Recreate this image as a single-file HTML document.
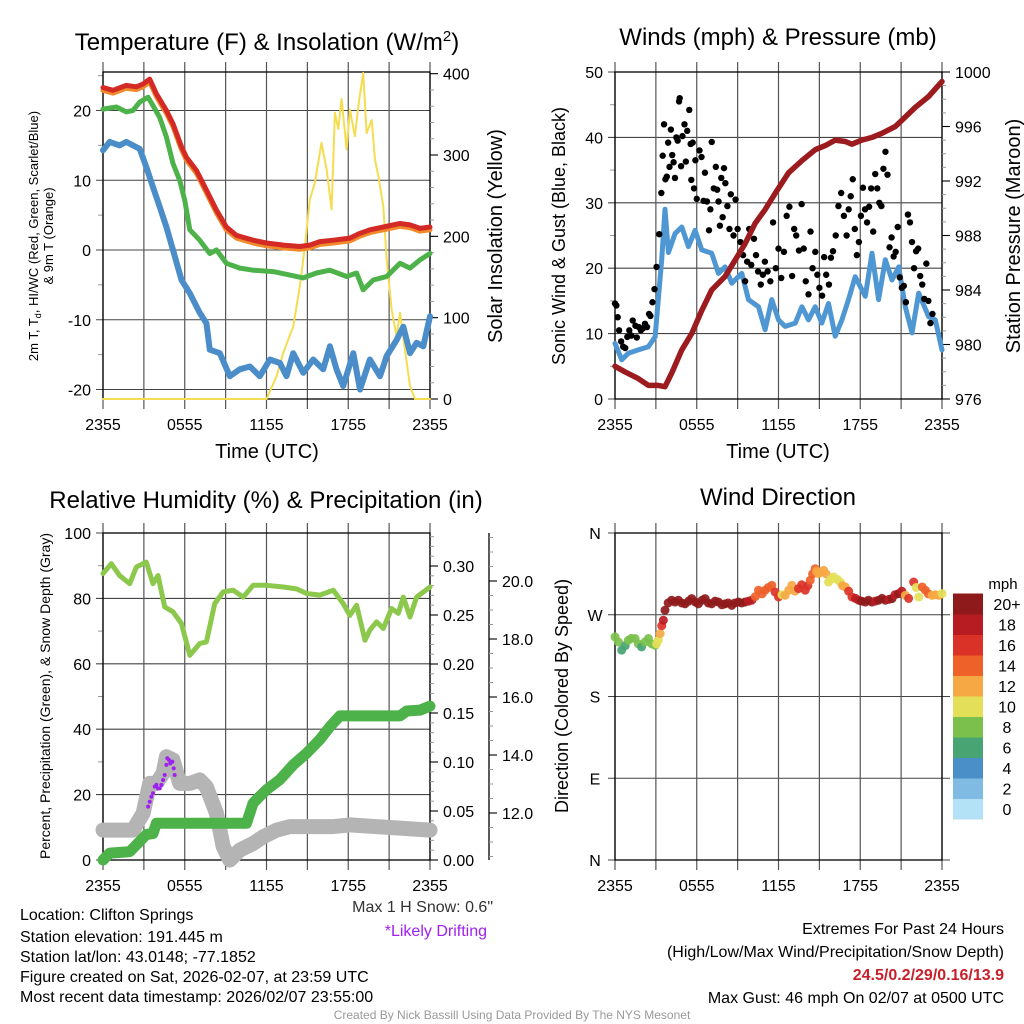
<!DOCTYPE html>
<html><head><meta charset="utf-8">
<style>
html,body{margin:0;padding:0;background:#fff;}
svg{display:block;font-family:"Liberation Sans",sans-serif;}
</style></head>
<body>
<svg id="c" width="1024" height="1024" viewBox="0 0 1024 1024" xmlns="http://www.w3.org/2000/svg">
<g font-size="24" text-anchor="middle" fill="#000">
<text x="267" y="50">Temperature (F) &amp; Insolation (W/m<tspan dy="-9" font-size="15">2</tspan><tspan dy="9">)</tspan></text>
<text x="778" y="45">Winds (mph) &amp; Pressure (mb)</text>
<text x="266" y="508">Relative Humidity (%) &amp; Precipitation (in)</text>
<text x="778" y="505">Wind Direction</text>
</g>
<g fill="#000" text-anchor="middle">
<text x="267" y="458" font-size="20">Time (UTC)</text>
<text x="778" y="458" font-size="20">Time (UTC)</text>
<text transform="translate(38,236) rotate(-90)" font-size="13">2m T, T<tspan font-size="9" dy="3">d</tspan><tspan dy="-3">, HI/WC (Red, Green, Scarlet/Blue)</tspan></text>
<text transform="translate(53,236) rotate(-90)" font-size="13">&amp; 9m T (Orange)</text>
<text transform="translate(502,236) rotate(-90)" font-size="20">Solar Insolation (Yellow)</text>
<text transform="translate(565,236) rotate(-90)" font-size="18">Sonic Wind &amp; Gust (Blue, Black)</text>
<text transform="translate(1020,236) rotate(-90)" font-size="20">Station Pressure (Maroon)</text>
<text transform="translate(50,696) rotate(-90)" font-size="14">Percent, Precipitation (Green), &amp; Snow Depth (Gray)</text>
<text transform="translate(568,696) rotate(-90)" font-size="18">Direction (Colored By Speed)</text>
</g>
<g id="plots"></g>
<g font-size="16" fill="#000">
<text x="20" y="920">Location: Clifton Springs</text>
<text x="20" y="942">Station elevation: 191.445 m</text>
<text x="20" y="962">Station lat/lon: 43.0148; -77.1852</text>
<text x="20" y="982">Figure created on Sat, 2026-02-07, at 23:59 UTC</text>
<text x="20" y="1002">Most recent data timestamp: 2026/02/07 23:55:00</text>
<text x="493" y="912" text-anchor="end" fill="#333">Max 1 H Snow: 0.6"</text>
<text x="487" y="936" text-anchor="end" fill="#a020f0">*Likely Drifting</text>
<text x="1004" y="934" text-anchor="end">Extremes For Past 24 Hours</text>
<text x="1004" y="957" text-anchor="end">(High/Low/Max Wind/Precipitation/Snow Depth)</text>
<text x="1004" y="980" text-anchor="end" fill="#c8202a" font-weight="bold">24.5/0.2/29/0.16/13.9</text>
<text x="1004" y="1003" text-anchor="end">Max Gust: 46 mph On 02/07 at 0500 UTC</text>
<text x="512" y="1019" text-anchor="middle" font-size="12" fill="#999">Created By Nick Bassill Using Data Provided By The NYS Mesonet</text>
</g>
</svg>
<script>
const timeTicks=["2355","0555","1155","1755","2355"];
// Panel 1
const redH=[0,0.73,1.71,2.45,2.94,3.43,3.92,4.65,5.14,5.76,6.12,6.86,7.59,8.33,9.06,9.8,11.02,12,13.23,14.45,15.18,15.92,16.9,18.12,18.86,19.59,20.57,21.8,22.53,23.27,24];
const redV=[23.3,22.9,23.6,23.4,23.8,24.5,22.4,20,18.1,14.8,13.3,11.4,8.6,5.7,3.3,2.1,1.4,1,0.7,0.5,0.7,1.2,1.4,1.7,2.4,2.9,3.3,3.8,3.6,3.1,3.3];
const orangeV=[22.9,22.5,23.2,23,23.4,24.1,22,19.6,17.7,14.4,12.9,11,8.2,5.3,2.9,1.7,1,0.6,0.3,0.1,0.3,0.8,1,1.3,2,2.5,2.9,3.4,3.2,2.7,2.9];
const greenH=[0,0.98,1.71,2.2,2.69,3.31,3.67,4.16,4.65,5.14,5.63,6,6.37,7.1,7.84,8.33,9.06,10.04,11.02,12.49,13.72,14.69,15.67,16.65,17.88,18.61,19.1,19.84,20.82,21.8,22.53,23.27,24];
const greenV=[20.2,20.5,19.8,20,21.2,21.9,20.7,19,16.2,12.4,10,7.1,2.9,1.4,-0.5,0,-1.9,-2.6,-2.9,-3.1,-3.6,-4,-3.3,-2.9,-3.8,-3.3,-5.7,-4.3,-3.8,-1.9,-2.6,-1.4,-0.5];
const blueH=[0,0.49,1.22,1.71,2.2,2.69,3.18,3.67,4.16,4.65,5.14,5.76,6.37,7.1,7.59,7.84,8.57,9.31,10.04,10.78,11.51,12.25,12.98,13.47,13.96,14.69,15.43,16.16,16.65,17.14,17.63,18.37,18.86,19.59,20.33,20.82,21.55,22.04,22.53,23.02,23.51,24];
const blueV=[14.3,15.5,15,15.5,15,14.5,11.9,9,6.2,3.3,0,-4.3,-6.2,-9,-10.5,-14.3,-14.8,-18.1,-17.1,-16.7,-18.1,-15.7,-16.2,-18.1,-14.8,-17.6,-15.7,-17.1,-13.8,-17.1,-19.5,-14.8,-20,-15.7,-18.1,-15.2,-12.9,-11,-14.8,-13.3,-13.8,-9.5];
const solarH=[0,12,12.74,13.23,13.96,14.45,14.82,15.18,15.55,16.04,16.41,16.78,17.02,17.27,17.51,17.88,18.12,18.49,18.74,19.1,19.35,19.72,19.96,20.21,20.57,20.82,21.18,21.55,21.8,22.16,22.53,22.9,24];
const solarV=[0,0,28,57,89,139,188,245,266,315,282,233,352,332,369,307,356,323,360,401,327,343,294,274,237,171,110,77,106,61,16,0,0];
// Panel 2
const presH=[0,0.73,1.71,2.45,3.18,3.67,4.16,4.9,5.63,6.37,7.1,8.08,8.82,9.55,10.29,11.02,11.76,12.74,13.72,14.69,15.43,16.16,16.9,17.39,18.12,18.86,19.59,20.57,21.31,22.04,23.02,24];
const presV=[978.4,978,977.5,977,977,976.9,977.9,979.6,980.8,982.5,984,985,986.2,987.4,988.9,989.9,991.1,992.6,993.5,994.3,994.6,995,994.9,994.7,995,995.2,995.5,996,996.7,997.4,998.2,999.3];
const windH=[0,0.49,0.98,1.71,2.45,2.94,3.43,3.67,3.92,4.41,4.9,5.39,5.88,6.37,7.1,7.59,8.08,8.57,9.31,9.8,10.53,11.02,11.51,12,12.49,13.23,13.72,14.2,14.69,15.18,15.67,16.16,16.65,17.14,17.63,18.37,18.86,19.35,19.84,20.33,20.82,21.31,21.8,22.29,23.02,23.51,24];
const windV=[8.5,6,7,7.5,8,9.5,21.3,29,22.4,25.3,26.3,23.3,25.8,22.8,22.3,19.2,20.2,17.7,19.2,15.2,14.1,10.6,15.2,12.1,11.1,11.6,14.1,12.1,14.1,11.6,14.6,9.6,12.1,15.2,18.7,15.7,22.3,15.2,21.3,18.2,20.2,14.1,10.1,16.2,12.6,12.1,7.5];
const gustH=[0,0.1,0.2,0.3,0.45,0.6,0.75,0.9,1.05,1.2,1.3,1.5,1.6,1.75,1.9,2.05,2.2,2.35,2.5,2.6,2.75,2.9,3.05,3.25,3.4,3.5,3.6,3.7,3.8,3.9,4.0,4.1,4.2,4.3,4.4,4.5,4.6,4.7,4.75,4.85,4.95,5.1,5.2,5.3,5.45,5.55,5.6,5.7,5.8,5.9,6.0,6.2,6.35,6.5,6.6,6.75,6.9,7.0,7.1,7.25,7.4,7.5,7.6,7.7,7.8,7.9,8.0,8.1,8.25,8.4,8.5,8.7,8.85,9.0,9.2,9.4,9.55,9.7,9.85,10.0,10.2,10.35,10.5,10.7,10.85,11.0,11.2,11.4,11.6,11.8,12.0,12.2,12.4,12.6,12.8,13.0,13.15,13.3,13.5,13.7,13.85,14.0,14.2,14.35,14.5,14.7,14.85,15.0,15.2,15.35,15.5,15.7,15.85,16.0,16.2,16.4,16.6,16.8,17.0,17.15,17.3,17.45,17.6,17.75,17.9,18.05,18.2,18.35,18.5,18.65,18.8,18.95,19.1,19.25,19.4,19.55,19.7,19.85,20.0,20.15,20.3,20.45,20.6,20.75,20.9,21.05,21.2,21.35,21.5,21.65,21.8,21.95,22.1,22.25,22.4,22.55,22.7,22.85,23.0,23.15,23.3,23.45,23.6,23.75,23.9,24];
const gustV=[14.6,14.3,12.5,10.5,8.8,8,7.8,9.5,10.5,9.7,12,11.2,9.4,11,10.5,10.8,11.5,11,13,12.7,14.8,16.8,20.2,25.2,31.5,37.2,42,33.6,34,39.2,35.5,41.2,37.3,36.2,33.8,40,39.5,45.5,46,35.6,40.2,42,36.3,41,44.2,39,33.5,39.2,32.2,36.5,30.6,38,37,30.3,34.6,30.2,25.8,29,39.3,32.2,35.5,32,30.2,26.5,33.8,27.8,35.3,33,29.5,26,31.3,25,30.5,26,24,22,18,21,26,20.5,24.5,22,19.5,17.5,19,21,19.5,18,27,20,23,18.5,22.5,28,29.4,18.8,26,25,22.7,29.8,23,18,16,25.6,20,22.5,19,17,15.8,21.7,19,17.5,21.6,22.6,25,29.5,31.5,28,25,29,31,33.6,26,22,24,28,32.3,29,27,29.4,32.2,25.6,34.4,32.2,30,29.5,35.2,37.8,34.3,23.2,24.7,21.8,22.5,26.3,18.6,17,17.3,14.8,28.2,27,24,20,22.6,23,18.8,17.5,15.3,20.7,15,11.6,13];
// Panel 3
const rhH=[0,0.61,1.22,1.96,2.45,3.18,3.67,4.04,4.53,5.14,5.76,6.37,7.1,7.59,8.2,8.82,9.55,10.29,11.02,12,13.23,14.2,14.94,15.92,16.9,17.63,18.12,18.61,19.23,19.59,20.08,20.57,21.18,21.67,22.04,22.53,23.02,24];
const rhV=[87.6,90.6,87,84.5,89.6,91.1,84.5,87,77.4,75.9,72.3,62.6,66.2,66.7,78.4,82,82.5,80.4,84,84,83.5,82.9,81.5,81,82.5,78.4,74.8,77.9,67.2,70.3,72.8,70.8,76.9,75.4,80.4,74.3,80.4,83.5];
const precipH=[0,0.49,1.96,2.69,3.18,3.67,3.92,10.53,11.02,11.51,12,12.98,13.96,14.94,15.92,16.65,17.39,21.8,22.29,23.27,24];
const precipV=[0,0.007,0.0085,0.019,0.026,0.027,0.0375,0.0375,0.058,0.065,0.0716,0.082,0.097,0.109,0.123,0.136,0.147,0.147,0.152,0.153,0.157];
const snowH=[0,2.2,2.94,3.43,3.92,4.41,4.65,5.14,5.63,6.37,7.1,7.59,8.33,8.82,9.31,10.04,11.02,11.76,12.74,13.72,16.9,18.12,24];
const snowV=[11.41,11.41,11.99,13.02,13.02,13.37,13.94,13.83,13.02,13.02,13.14,12.9,11.99,10.84,10.38,10.72,10.95,11.18,11.41,11.53,11.53,11.59,11.41];
const driftH=[3.31,3.43,3.55,3.67,3.8,3.92,4.04,4.16,4.29,4.41,4.53,4.65,4.72,4.84,4.94,5.09,5.19,5.26];
const driftV=[12.22,12.39,12.56,12.68,12.91,12.97,12.85,12.85,12.97,13.14,13.31,13.66,13.89,13.83,13.71,13.77,13.54,13.31];
// Panel 4
const dirH=[0,0.25,0.49,0.75,0.98,1.2,1.47,1.71,1.95,2.2,2.45,2.69,2.94,3.05,3.18,3.31,3.43,3.55,3.67,3.9,4.16,4.4,4.65,4.9,5.14,5.4,5.63,5.9,6.12,6.4,6.61,6.85,7.1,7.35,7.59,7.85,8.08,8.3,8.57,8.8,9.06,9.3,9.55,9.8,10.04,10.3,10.53,10.8,11.02,11.25,11.51,11.75,12,12.25,12.49,12.75,12.98,13.2,13.47,13.7,13.96,14.15,14.33,14.5,14.69,14.8,14.94,15.1,15.31,15.5,15.67,15.85,16.04,16.3,16.53,16.7,16.9,17.15,17.39,17.65,17.88,18.1,18.37,18.6,18.86,19.1,19.35,19.6,19.84,20.1,20.33,20.55,20.82,21.05,21.31,21.55,21.92,22.1,22.29,22.55,22.78,23.0,23.27,23.5,23.76,24];
const dirV=[245.6,240,231,236,242,244,243.8,238,234.6,240,243.8,238,236.4,238,242,249.3,258,264,275,283,286,284,286,283,282,285,287.8,284,282,286,287.8,283,282,285,284,281,282,283,280.4,283,284,283,284,285,286,290,297,293,297,300,302.4,295,289.6,292,291.4,297,302.4,296,298.8,303,297,302,308,315,320.7,318,315.2,317,319,315,306,309,311.6,309,306,302,300.6,296,289.6,288,286,285,284,286,284,285,286,288,286,287,287.8,292,293.3,296,291.4,288,306,300,289.6,300.6,297,293,291.4,292,291.4,293.3,297];
const dirS=[8,7,6,6,8,8,8,7,6,7,7,8,8,10,10,12,16,18,20,20,20,20,20,20,20,20,20,20,20,20,20,20,20,20,20,20,20,20,20,20,20,20,20,18,18,14,14,14,14,14,14,16,16,10,12,12,12,12,16,16,16,16,14,14,14,12,12,12,12,12,10,10,10,10,10,12,12,16,16,18,18,20,20,20,20,18,20,20,20,18,20,18,20,18,12,16,16,10,10,14,14,14,12,12,12,10,8];
const cbLabels=["0","2","4","6","8","10","12","14","16","18","20+"];
const cbColors=["#b3e1f6","#7fbbe3","#4a8fc7","#48a473","#7bc04c","#e4df58","#f5a843","#ee6129","#db3227","#b81c23","#8f1a1b"];

const NS="http://www.w3.org/2000/svg";
const root=document.getElementById('plots');
function el(tag,attrs,parent){const e=document.createElementNS(NS,tag);for(const k in attrs)e.setAttribute(k,attrs[k]);(parent||root).appendChild(e);return e;}
function txt(s,attrs,parent){const t=el('text',attrs,parent);t.textContent=s;return t;}

function frame(x0,x1,yT,yB,g){
  for(let i=0;i<=8;i++){const x=x0+(x1-x0)*i/8;
    const l=el('line',{x1:x,x2:x,y1:yT-10,y2:yB+10,stroke:'#555','stroke-width':1.2},g);
    }
  for(let i=0;i<timeTicks.length;i++){const x=x0+(x1-x0)*i/4;
    const t=txt(timeTicks[i],{x:x,y:yB+31,'font-size':16,'text-anchor':'middle'},g);
    }
  const r=el('rect',{x:x0,y:yT,width:x1-x0,height:yB-yT,fill:'none',stroke:'#000','stroke-width':1.3},g);
  
}
function hgrid(x0,x1,y,g,label){
  const l=el('line',{x1:x0-7,x2:x1,y1:y,y2:y,stroke:'#444','stroke-width':1.1},g);
  
  if(label!==null){const t=txt(label,{x:x0-12,y:y+6,'font-size':16,'text-anchor':'end'},g);
  }
}
function rightAxis(x,yfn,majors,minors,fmt,g,name,lineTop,lineBot){
  if(lineTop!==undefined){const l=el('line',{x1:x,x2:x,y1:lineTop,y2:lineBot,stroke:'#000','stroke-width':1.3},g);
    }
  minors.forEach(v=>{const m=el('line',{x1:x,x2:x+4,y1:yfn(v),y2:yfn(v),stroke:'#999','stroke-width':1},g);
    });
  majors.forEach(v=>{const y=yfn(v);const m=el('line',{x1:x,x2:x+8,y1:y,y2:y,stroke:'#000','stroke-width':1.1},g);
    
    const t=txt(fmt(v),{x:x+13,y:y+6,'font-size':16},g);
    });
}
function poly(H,V,xf,yf,attrs,g,name){
  const n=Math.min(H.length,V.length);
  const pts=[];for(let i=0;i<n;i++)pts.push(xf(H[i]).toFixed(1)+','+yf(V[i]).toFixed(1));
  const p=el('polyline',Object.assign({points:pts.join(' '),fill:'none','stroke-linejoin':'round','stroke-linecap':'round'},attrs),g);
  return p;
}
function range(a,b,s){const r=[];for(let v=a;v<=b+1e-9;v+=s)r.push(+v.toFixed(4));return r;}

// ---- Panel 1
{const g=el('g',{});
 const x0=103,x1=430,yT=72,yB=399;
 const xs=h=>x0+(x1-x0)*h/24, ys=v=>250-v*6.975, ys2=s=>399-s*0.8133;
 [20,10,0,-10,-20].forEach(v=>hgrid(x0,x1,ys(v),g,String(v)));
 range(-20,25,5).forEach(v=>{if(v%10){const m=el('line',{x1:x0-5,x2:x0,y1:ys(v),y2:ys(v),stroke:'#999'},g);}});
 frame(x0,x1,yT,yB,g);
 rightAxis(x1,ys2,[0,100,200,300,400],range(20,380,20),v=>String(v),g,'solar');
 poly(solarH,solarV,xs,ys2,{stroke:'#f5dc50','stroke-width':2},g,'solar-line');
 poly(blueH,blueV,xs,ys,{stroke:'#4a8dc8','stroke-width':6},g,'windchill-line');
 poly(greenH,greenV,xs,ys,{stroke:'#4db249','stroke-width':5},g,'dewpoint-line');
 poly(redH,orangeV,xs,ys,{stroke:'#f08a2a','stroke-width':5},g,'temp-9m-line');
 poly(redH,redV,xs,ys,{stroke:'#d42a26','stroke-width':5},g,'temp-2m-line');
}
// ---- Panel 2
{const g=el('g',{});
 const x0=615,x1=942,yT=72,yB=399;
 const xs=h=>x0+(x1-x0)*h/24, ys=v=>399-v*6.54, yp=p=>399-(p-976)*13.625;
 [50,40,30,20,10,0].forEach(v=>hgrid(x0,x1,ys(v),g,String(v)));
 range(5,45,10).forEach(v=>{const m=el('line',{x1:x0-5,x2:x0,y1:ys(v),y2:ys(v),stroke:'#999'},g);});
 frame(x0,x1,yT,yB,g);
 rightAxis(x1,yp,[976,980,984,988,992,996,1000],range(977,999,1),v=>String(v),g,'pressure');
 poly(windH,windV,xs,ys,{stroke:'#4f97d3','stroke-width':5},g,'sonic-wind-line');
 const n=Math.min(gustH.length,gustV.length);
 for(let i=0;i<n;i++){const c=el('circle',{cx:xs(gustH[i]),cy:ys(gustV[i]),r:3.2,fill:'#000'},g);
   }
 poly(presH,presV,xs,yp,{stroke:'#9b1b1e','stroke-width':5.5},g,'pressure-line');
}
// ---- Panel 3
{const g=el('g',{});
 const x0=103,x1=430,yT=533,yB=860;
 const xs=h=>x0+(x1-x0)*h/24, ys=v=>860-v*3.27, yp=p=>860-p*980, ysn=s=>581-(s-20)*29;
 [100,80,60,40,20,0].forEach(v=>hgrid(x0,x1,ys(v),g,String(v)));
 range(10,90,20).forEach(v=>{const m=el('line',{x1:x0-5,x2:x0,y1:ys(v),y2:ys(v),stroke:'#999'},g);});
 frame(x0,x1,yT,yB,g);
 rightAxis(x1,yp,[0,0.05,0.1,0.15,0.2,0.25,0.3],range(0.01,0.33,0.01),v=>v.toFixed(2),g,'precip');
 rightAxis(489,ysn,[12,14,16,18,20],range(10.5,21.5,0.5),v=>v.toFixed(1),g,'snow',533,860);
 poly(snowH,snowV,xs,ysn,{stroke:'#b4b4b4','stroke-width':15},g,'snow-depth-line');
 poly(precipH,precipV,xs,yp,{stroke:'#4db249','stroke-width':11},g,'precip-line');
 poly(rhH,rhV,xs,ys,{stroke:'#8cc84b','stroke-width':5},g,'rh-line');
 driftH.forEach((h,i)=>{const c=el('circle',{cx:xs(h),cy:ysn(driftV[i]),r:2,fill:'#a020f0'},g);
   });
}
// ---- Panel 4
{const g=el('g',{});
 const x0=615,x1=942,yT=533,yB=860;
 const xs=h=>x0+(x1-x0)*h/24, ys=d=>860-d*0.9083;
 const labs=['N','E','S','W','N'];
 [0,90,180,270,360].forEach((d,i)=>{const y=ys(d);
   const l=el('line',{x1:x0-7,x2:x1+8,y1:y,y2:y,stroke:'#444','stroke-width':1.1},g);
   const t=txt(labs[i],{x:x0-20,y:y+6,'font-size':16,'text-anchor':'middle'},g);});
 frame(x0,x1,yT,yB,g);
 const colorFor=s=>cbColors[Math.min(10,Math.max(0,Math.round(s/2)))];
 const n=Math.min(dirH.length,dirV.length,dirS.length);
 for(let i=0;i<n;i++){const c=el('circle',{cx:xs(dirH[i]),cy:ys(dirV[i]),r:4.5,fill:colorFor(dirS[i]),opacity:0.92},g);
   }
 const cb=el('g',{},g);
 const segH=20.5, cbBottom=819;
 cbColors.forEach((col,i)=>{const y=cbBottom-(i+1)*segH;
   const r=el('rect',{x:953,y:y,width:30,height:segH+0.5,fill:col},cb);
   const t=txt(cbLabels[i],{x:1007,y:y+segH/2+6,'font-size':16,'text-anchor':'middle'},cb);});
 const u=txt('mph',{x:1003,y:589,'font-size':15,'text-anchor':'middle'},cb);
}
</script>
</body></html>
